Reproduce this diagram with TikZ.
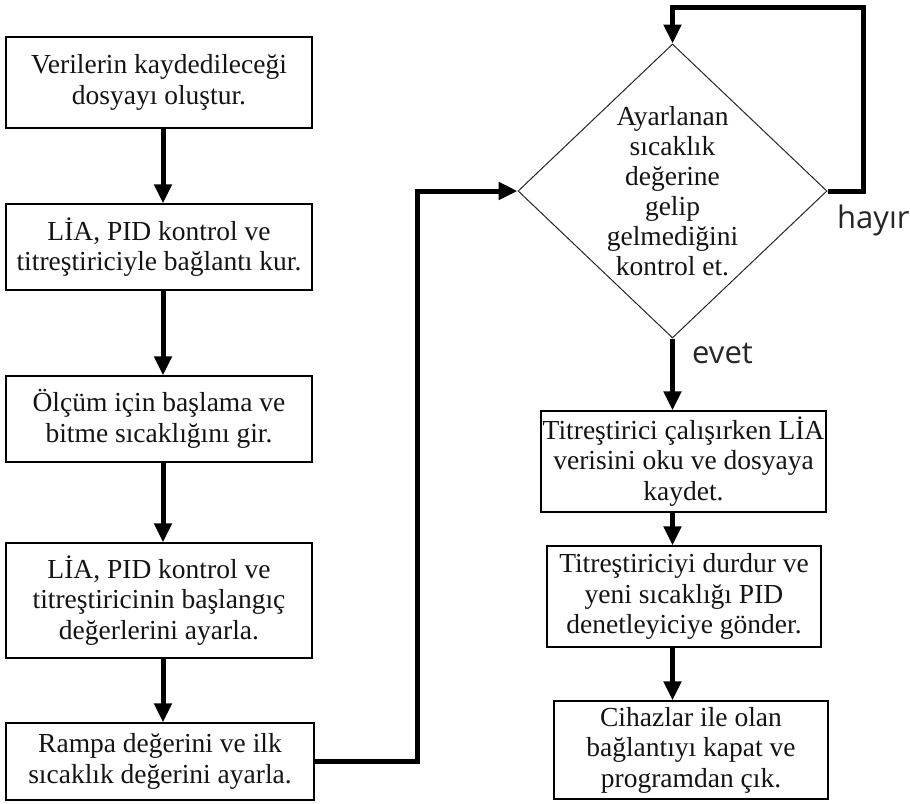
\documentclass[tikz,border=0pt]{standalone}
\usepackage{fontspec}
\setmainfont{Liberation Serif}
\newfontfamily\labelfont{Open Sans}
\usetikzlibrary{arrows.meta,shapes.geometric,calc}
\tikzset{
  stepbox/.style={draw=black, line width=1.3pt, rectangle, inner sep=0pt, align=center,
    text=black!92, font=\fontsize{27.5}{30.5}\selectfont},
  decision/.style={draw=black!85, line width=1pt, diamond, inner sep=0pt},
  conn/.style={line width=5pt, draw=black, -{Triangle[length=19pt,width=17pt]}},
  lbl/.style={font=\labelfont\fontsize{31}{34}\selectfont, text=black!85, inner sep=0pt}
}
\begin{document}
\begin{tikzpicture}[x=1pt,y=-1pt]
\useasboundingbox[fill=white] (0,0) rectangle (910,803);

\node[stepbox, minimum width=306pt, minimum height=91pt] (b1) at (159,82.5)
  {Verilerin kaydedileceği\\dosyayı oluştur.};
\node[stepbox, minimum width=306pt, minimum height=86pt] (b2) at (159,247)
  {LİA, PID kontrol ve\\titreştiriciyle bağlantı kur.};
\node[stepbox, minimum width=306pt, minimum height=86pt] (b3) at (159,419)
  {Ölçüm için başlama ve\\bitme sıcaklığını gir.};
\node[stepbox, minimum width=306pt, minimum height=115pt] (b4) at (159,600.5)
  {LİA, PID kontrol ve\\titreştiricinin başlangıç\\değerlerini ayarla.};
\node[stepbox, minimum width=308pt, minimum height=77pt] (b5) at (160,761.5)
  {Rampa değerini ve ilk\\sıcaklık değerini ayarla.};

\node[decision, minimum width=309pt, minimum height=294pt] (d) at (672.5,191) {};
\node[align=center, inner sep=0pt, text=black!92, font=\fontsize{27.5}{30}\selectfont] (dt) at (d.center)
  {Ayarlanan\\sıcaklık\\değerine\\gelip\\gelmediğini\\kontrol et.};

\node[stepbox, minimum width=285pt, minimum height=101pt] (b6) at (683.5,461.5)
  {Titreştirici çalışırken LİA\\verisini oku ve dosyaya\\kaydet.};
\node[stepbox, minimum width=274pt, minimum height=101pt] (b7) at (684,596.5)
  {Titreştiriciyi durdur ve\\yeni sıcaklığı PID\\denetleyiciye gönder.};
\node[stepbox, minimum width=274pt, minimum height=98pt] (b8) at (691,750)
  {Cihazlar ile olan\\bağlantıyı kapat ve\\programdan çık.};

% left column arrows (on one vertical line)
\coordinate (colL) at (163,0);
\draw[conn] (b1.south -| colL) -- (b2.north -| colL);
\draw[conn] (b2.south -| colL) -- (b3.north -| colL);
\draw[conn] (b3.south -| colL) -- (b4.north -| colL);
\draw[conn] (b4.south -| colL) -- (b5.north -| colL);

% to decision
\coordinate (jog) at (417,191);
\draw[conn] (b5.east) -| (jog) -- (d.west);

% loop (hayir)
\coordinate (loopTR) at (863,7);
\draw[conn] (d.east) -| (loopTR) -| (d.north);

% right column arrows
\draw[conn] (d.south) -- (b6.north -| d.south);
\draw[conn] (b6.south -| d.south) -- (b7.north -| d.south);
\draw[conn] (b7.south -| d.south) -- (b8.north -| d.south);

\node[lbl, anchor=base west] (evet) at (692,363) {evet};
\node[lbl, anchor=base west] (hayir) at (837,228) {hayır};
\end{tikzpicture}
\end{document}
